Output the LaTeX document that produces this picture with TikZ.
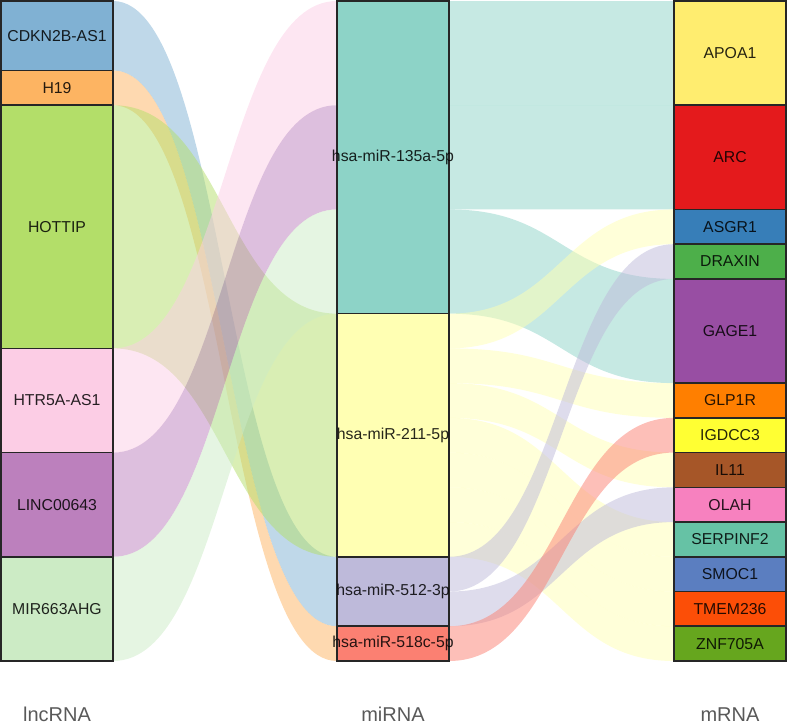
\documentclass[tikz,border=0pt]{standalone}
\usepackage{fontspec}
\setmainfont{Liberation Sans}
\usetikzlibrary{calc,backgrounds}

% lncRNA colours
\definecolor{cdknc}{HTML}{80B1D3}
\definecolor{hnineteenc}{HTML}{FDB462}
\definecolor{hottipc}{HTML}{B3DE69}
\definecolor{htrc}{HTML}{FCCDE5}
\definecolor{lincc}{HTML}{BC80BD}
\definecolor{mirahgc}{HTML}{CCEBC5}
% miRNA colours
\definecolor{mirhtc}{HTML}{8DD3C7}
\definecolor{mirtoc}{HTML}{FFFFB3}
\definecolor{mirftc}{HTML}{BEBADA}
\definecolor{mirfec}{HTML}{FB8072}
% mRNA colours
\definecolor{apoac}{HTML}{FFED6F}
\definecolor{arcc}{HTML}{E41A1C}
\definecolor{asgrc}{HTML}{377EB8}
\definecolor{draxinc}{HTML}{4DAF4A}
\definecolor{gagec}{HTML}{984EA3}
\definecolor{glpc}{HTML}{FF7F00}
\definecolor{igdccc}{HTML}{FFFF33}
\definecolor{ilc}{HTML}{A65628}
\definecolor{olahc}{HTML}{F781BF}
\definecolor{serpc}{HTML}{66C2A5}
\definecolor{smocc}{HTML}{5B7EC0}
\definecolor{tmemc}{HTML}{FC4E07}
\definecolor{znfc}{HTML}{66A61E}

\def\rowh{34.737}

% band from one box to another: source, offset, target, offset, size, colour
\newcommand{\flow}[6]{%
  \fill[#6, fill opacity=.5]
    ($(#1.north east)+(0,#2*\rowh)$) .. controls +(112,0) and +(-112,0) .. ($(#3.north west)+(0,#4*\rowh)$)
    -- ++(0,#5*\rowh) .. controls +(-112,0) and +(112,0) .. ($(#1.north east)+(0,#2*\rowh+#5*\rowh)$) -- cycle;}

\tikzset{
  box/.style={draw=black!85, line width=1.6pt, anchor=north west, minimum width=112,
    inner sep=0pt, outer sep=0pt},
  lbl/.style={font=\fontsize{15.8}{19}\selectfont, text opacity=.85, inner sep=0pt},
  collbl/.style={font=\fontsize{20}{24}\selectfont, text=black!65, anchor=base}
}

\begin{document}
\begin{tikzpicture}[x=1pt, y=-1pt]
    \useasboundingbox (0,0) rectangle (787,721);

    % lncRNA column
    \node[box, fill=cdknc, minimum height=2*\rowh, label={[lbl]center:CDKN2B-AS1}] (cdkn) at (1,1) {};
    \node[box, fill=hnineteenc, minimum height=\rowh, label={[lbl]center:H19}] (hnineteen) at (1,1+2*\rowh) {};
    \node[box, fill=hottipc, minimum height=7*\rowh, label={[lbl]center:HOTTIP}] (hottip) at (1,1+3*\rowh) {};
    \node[box, fill=htrc, minimum height=3*\rowh, label={[lbl]center:HTR5A-AS1}] (htr) at (1,1+10*\rowh) {};
    \node[box, fill=lincc, minimum height=3*\rowh, label={[lbl]center:LINC00643}] (linc) at (1,1+13*\rowh) {};
    \node[box, fill=mirahgc, minimum height=3*\rowh, label={[lbl]center:MIR663AHG}] (mirahg) at (1,1+16*\rowh) {};

    % miRNA column
    \node[box, fill=mirhtc, minimum height=9*\rowh, label={[lbl]center:hsa-miR-135a-5p}] (mirht) at (337,1) {};
    \node[box, fill=mirtoc, minimum height=7*\rowh, label={[lbl]center:hsa-miR-211-5p}] (mirto) at (337,1+9*\rowh) {};
    \node[box, fill=mirftc, minimum height=2*\rowh, label={[lbl]center:hsa-miR-512-3p}] (mirft) at (337,1+16*\rowh) {};
    \node[box, fill=mirfec, minimum height=\rowh, label={[lbl]center:hsa-miR-518c-5p}] (mirfe) at (337,1+18*\rowh) {};

    % mRNA column
    \node[box, fill=apoac, minimum height=3*\rowh, label={[lbl]center:APOA1}] (apoa) at (674,1) {};
    \node[box, fill=arcc, minimum height=3*\rowh, label={[lbl]center:ARC}] (arc) at (674,1+3*\rowh) {};
    \node[box, fill=asgrc, minimum height=\rowh, label={[lbl]center:ASGR1}] (asgr) at (674,1+6*\rowh) {};
    \node[box, fill=draxinc, minimum height=\rowh, label={[lbl]center:DRAXIN}] (draxin) at (674,1+7*\rowh) {};
    \node[box, fill=gagec, minimum height=3*\rowh, label={[lbl]center:GAGE1}] (gage) at (674,1+8*\rowh) {};
    \node[box, fill=glpc, minimum height=\rowh, label={[lbl]center:GLP1R}] (glp) at (674,1+11*\rowh) {};
    \node[box, fill=igdccc, minimum height=\rowh, label={[lbl]center:IGDCC3}] (igdcc) at (674,1+12*\rowh) {};
    \node[box, fill=ilc, minimum height=\rowh, label={[lbl]center:IL11}] (il) at (674,1+13*\rowh) {};
    \node[box, fill=olahc, minimum height=\rowh, label={[lbl]center:OLAH}] (olah) at (674,1+14*\rowh) {};
    \node[box, fill=serpc, minimum height=\rowh, label={[lbl]center:SERPINF2}] (serp) at (674,1+15*\rowh) {};
    \node[box, fill=smocc, minimum height=\rowh, label={[lbl]center:SMOC1}] (smoc) at (674,1+16*\rowh) {};
    \node[box, fill=tmemc, minimum height=\rowh, label={[lbl]center:TMEM236}] (tmem) at (674,1+17*\rowh) {};
    \node[box, fill=znfc, minimum height=\rowh, label={[lbl]center:ZNF705A}] (znf) at (674,1+18*\rowh) {};

    % bands behind the boxes
    \begin{scope}[on background layer]
        % lncRNA to miRNA
        \flow{cdkn}{0}{mirft}{0}{2}{cdknc}
        \flow{hnineteen}{0}{mirfe}{0}{1}{hnineteenc}
        \flow{hottip}{0}{mirto}{0}{7}{hottipc}
        \flow{htr}{0}{mirht}{0}{3}{htrc}
        \flow{linc}{0}{mirht}{3}{3}{lincc}
        \flow{mirahg}{0}{mirht}{6}{3}{mirahgc}
        % miRNA to mRNA
        \flow{mirht}{0}{apoa}{0}{3}{mirhtc}
        \flow{mirht}{3}{arc}{0}{3}{mirhtc}
        \flow{mirht}{6}{gage}{0}{3}{mirhtc}
        \flow{mirto}{0}{asgr}{0}{1}{mirtoc}
        \flow{mirto}{1}{glp}{0}{1}{mirtoc}
        \flow{mirto}{2}{il}{0}{1}{mirtoc}
        \flow{mirto}{3}{serp}{0}{1}{mirtoc}
        \flow{mirto}{4}{smoc}{0}{1}{mirtoc}
        \flow{mirto}{5}{tmem}{0}{1}{mirtoc}
        \flow{mirto}{6}{znf}{0}{1}{mirtoc}
        \flow{mirft}{0}{draxin}{0}{1}{mirftc}
        \flow{mirft}{1}{olah}{0}{1}{mirftc}
        \flow{mirfe}{0}{igdcc}{0}{1}{mirfec}
    \end{scope}

    % column titles
    \node[collbl] (lnctitle) at (57,721) {lncRNA};
    \node[collbl] (mirtitle) at (393,721) {miRNA};
    \node[collbl] (mrnatitle) at (730,721) {mRNA};
\end{tikzpicture}
\end{document}
